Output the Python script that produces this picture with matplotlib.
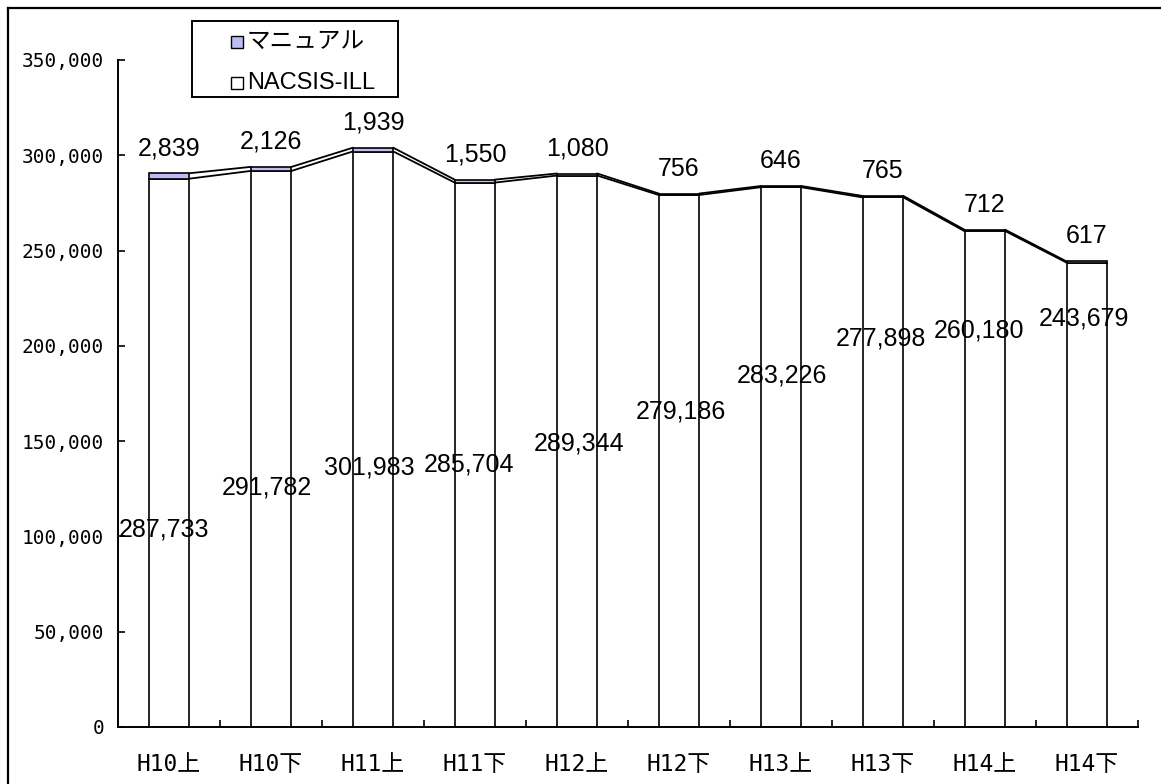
"""Stacked bar chart of ILL requests per half-year (NACSIS-ILL vs manual)."""

import matplotlib.pyplot as plt
import numpy as np
from matplotlib.lines import Line2D
from matplotlib.patches import Rectangle

categories = ["H10上", "H10下", "H11上", "H11下", "H12上",
              "H12下", "H13上", "H13下", "H14上", "H14下"]
nacsis = [287733, 291782, 301983, 285704, 289344,
          279186, 283226, 277898, 260180, 243679]
manual = [2839, 2126, 1939, 1550, 1080, 756, 646, 765, 712, 617]
legend_labels = ["マニュアル", "NACSIS-ILL"]

# the NACSIS labels were dragged by hand in the original, so keep their heights
nacsis_label_pos = [103400, 125900, 136400, 137500, 149000,
                    165300, 184200, 203600, 208300, 214100]
nacsis_label_dx = [-5, -4, -4, -6, 2, 2, 1, -2, -6, -3]

W, H = 1161, 784
LAVENDER = "#BDBDF5"
TEXT_FONT = ["Liberation Sans", "Noto Sans CJK JP"]
TICK_FONT = ["DejaVu Sans Mono", "Noto Sans CJK JP"]
BAR_WIDTH = 0.4


def px(x, y):
    """pixel position (from top-left) -> figure fraction"""
    return x / W, 1 - y / H


def draw_legend(fig) -> None:
    x0, y0 = px(192, 97)
    fig.add_artist(Rectangle((x0, y0), 206 / W, 76 / H, transform=fig.transFigure,
                             facecolor="white", edgecolor="black", linewidth=1.4, zorder=5))
    for colour, label, yc in zip([LAVENDER, "white"], legend_labels, [42, 83]):
        mx, my = px(231, yc + 6)
        fig.add_artist(Rectangle((mx, my), 12 / W, 12 / H, transform=fig.transFigure,
                                 facecolor=colour, edgecolor="black", linewidth=1.0, zorder=6))
        tx, ty = px(247, yc)
        fig.text(tx, ty, label, ha="left", va="center", fontsize=17, family=TEXT_FONT, zorder=6)


def main() -> None:
    x = np.arange(len(categories))
    nacsis_arr = np.array(nacsis)
    total = nacsis_arr + np.array(manual)

    fig = plt.figure(figsize=(W / 100, H / 100), dpi=100)
    ax = fig.add_axes([118 / W, 1 - 727 / H, 1020 / W, 667 / H])

    ax.bar(x, nacsis, width=BAR_WIDTH, color="white", edgecolor="black", linewidth=1.2, zorder=2)
    ax.bar(x, manual, bottom=nacsis, width=BAR_WIDTH, color=LAVENDER, edgecolor="black",
           linewidth=1.2, zorder=2)

    # series lines between neighbouring bar tops
    half = BAR_WIDTH / 2
    for tops in (nacsis_arr, total):
        for i in range(len(x) - 1):
            ax.plot([x[i] + half, x[i + 1] - half], [tops[i], tops[i + 1]],
                    color="black", linewidth=1.3, zorder=3)

    for i in range(len(x)):
        ax.annotate(f"{manual[i]:,}", (x[i], total[i]), xytext=(0, 18), textcoords="offset points",
                    ha="center", va="center", fontsize=18, family=TEXT_FONT, zorder=4)
        ax.annotate(f"{nacsis[i]:,}", (x[i], nacsis_label_pos[i]),
                    xytext=(nacsis_label_dx[i] * 0.72, 0), textcoords="offset points",
                    ha="center", va="center", fontsize=18, family=TEXT_FONT, zorder=4)

    ax.set_xlim(-0.5, len(x) - 0.5)
    ax.set_ylim(0, 350000)
    ax.set_yticks(np.arange(0, 350001, 50000))
    ax.set_yticklabels([f"{v:,}" for v in range(0, 350001, 50000)], family=TICK_FONT, fontsize=14)
    ax.set_xticks(x)
    ax.set_xticklabels(categories, family=TICK_FONT, fontsize=16.5)
    ax.set_xticks(np.arange(-0.5, len(x)), minor=True)
    ax.tick_params(axis="x", which="major", length=0, pad=19)
    ax.tick_params(axis="x", which="minor", direction="in", length=5, width=1.2)
    ax.tick_params(axis="y", direction="in", length=5, width=1.2, pad=10)

    for side in ("top", "right"):
        ax.spines[side].set_visible(False)
    for side in ("left", "bottom"):
        ax.spines[side].set_linewidth(1.4)

    draw_legend(fig)

    # outer chart-area border (only left and top are inside the image)
    fig.add_artist(Line2D([7.5 / W, 7.5 / W], [0, 1 - 8 / H], color="black",
                          linewidth=1.6, transform=fig.transFigure))
    fig.add_artist(Line2D([7.5 / W, 1], [1 - 8 / H, 1 - 8 / H], color="black",
                          linewidth=1.6, transform=fig.transFigure))

    fig.savefig("out.png", dpi=100)
    plt.close(fig)


if __name__ == "__main__":
    main()
